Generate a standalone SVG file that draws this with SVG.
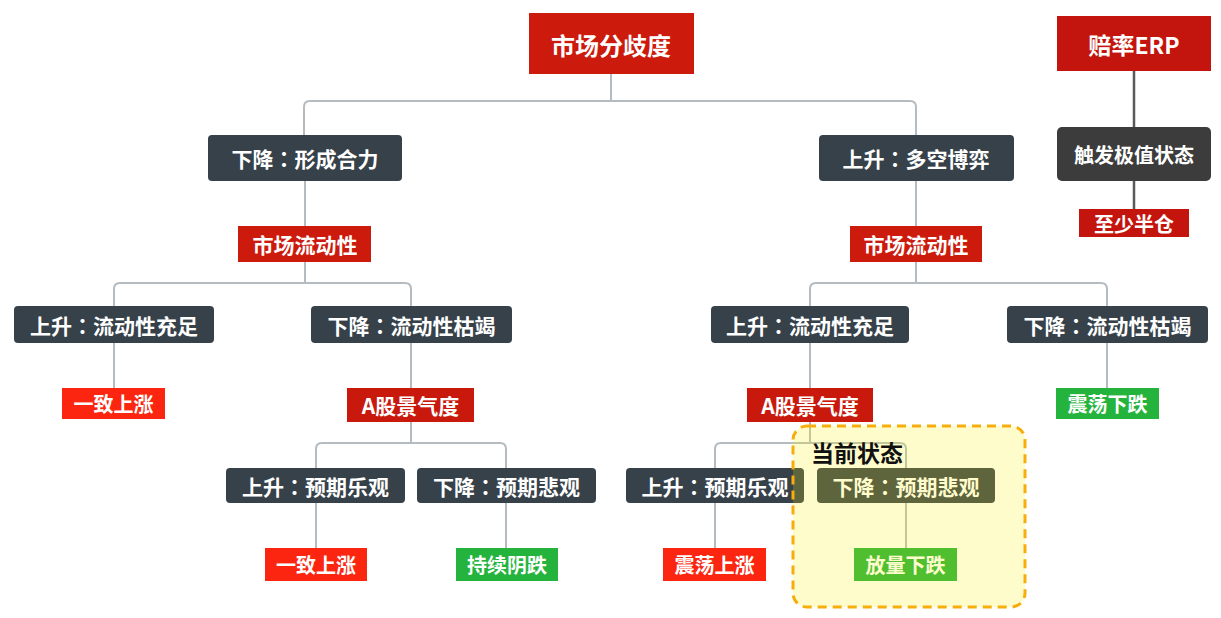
<svg xmlns="http://www.w3.org/2000/svg" width="1221" height="618" viewBox="0 0 1221 618">
<style>
text{font-family:"Noto Sans CJK SC","Noto Sans",sans-serif;font-weight:bold;fill:#fff;text-anchor:middle;dominant-baseline:central}
.c{font-family:"Noto Sans CJK TC","Noto Sans CJK SC",sans-serif}
.t22{font-size:21px}
.t20{font-size:20px}
.dark{fill:#36414a}
.red{fill:#cc1a0c}
.bred{fill:#fb2510}
.green{fill:#24b33d}
.ln{fill:none;stroke:#b4bbc1;stroke-width:2}
.ln2{fill:none;stroke:#5a5a5a;stroke-width:2.5}
</style>
<rect width="1221" height="618" fill="#fff"/>
<g id="connectors">
<path class="ln" d="M611 74V101M304 136V107Q304 101 310 101H910Q916 101 916 107V136"/>
<path class="ln" d="M305 181V226M916 181V226"/>
<path class="ln" d="M305 262V283M114 306V289Q114 283 120 283H405Q411 283 411 289V306"/>
<path class="ln" d="M916 262V283M810 306V289Q810 283 816 283H1101Q1107 283 1107 289V306"/>
<path class="ln" d="M114 343V388M411 343V388M810 343V388M1107 343V388"/>
<path class="ln" d="M411 422V443M316 468V449Q316 443 322 443H500Q506 443 506 449V468"/>
<path class="ln" d="M810 422V443M715 468V449Q715 443 721 443H900Q906 443 906 449V468"/>
<path class="ln" d="M316 503V548M506 503V548M715 503V548M906 503V548"/>
<path class="ln2" d="M1134 71V127M1134 181V209"/>
</g>
<g id="n-root"><rect x="529" y="13" width="165" height="61" class="red"/><text x="611" y="44" style="font-size:24px">市场分歧度</text></g>
<g id="n-down1"><rect x="208" y="135" width="194" height="46" rx="4" class="dark"/><text x="305" y="158" class="t22">下降<tspan class="c">：</tspan>形成合力</text></g>
<g id="n-up1"><rect x="819" y="135" width="195" height="46" rx="4" class="dark"/><text x="916" y="158" class="t22">上升<tspan class="c">：</tspan>多空博弈</text></g>
<g id="n-liq-l"><rect x="238" y="226" width="133" height="36" class="red"/><text x="305" y="244" class="t22">市场流动性</text></g>
<g id="n-liq-r"><rect x="850" y="226" width="132" height="36" class="red"/><text x="916" y="244" class="t22">市场流动性</text></g>
<g id="n-l-up"><rect x="14" y="306" width="200" height="37" rx="4" class="dark"/><text x="114" y="324.5" class="t22">上升<tspan class="c">：</tspan>流动性充足</text></g>
<g id="n-l-down"><rect x="311" y="306" width="201" height="37" rx="4" class="dark"/><text x="411.5" y="324.5" class="t22">下降<tspan class="c">：</tspan>流动性枯竭</text></g>
<g id="n-r-up"><rect x="711" y="306" width="198" height="37" rx="4" class="dark"/><text x="810" y="324.5" class="t22">上升<tspan class="c">：</tspan>流动性充足</text></g>
<g id="n-r-down"><rect x="1007" y="306" width="201" height="37" rx="4" class="dark"/><text x="1107.5" y="324.5" class="t22">下降<tspan class="c">：</tspan>流动性枯竭</text></g>
<g id="n-l-rise"><rect x="62" y="388" width="103" height="31" class="bred"/><text x="113.5" y="403.5" class="t20">一致上涨</text></g>
<g id="n-a-l"><rect x="347" y="388" width="127" height="34" fill="#c8190c"/><text x="410.5" y="405" class="t22">A股景气度</text></g>
<g id="n-a-r"><rect x="747" y="388" width="126" height="34" fill="#c8190c"/><text x="810" y="405" class="t22">A股景气度</text></g>
<g id="n-r-fall"><rect x="1056" y="388" width="103" height="31" class="green"/><text x="1107.5" y="403.5" class="t20">震荡下跌</text></g>
<g id="n-l-opt"><rect x="226" y="468" width="179" height="35" rx="4" class="dark"/><text x="315.5" y="485.5" class="t22">上升<tspan class="c">：</tspan>预期乐观</text></g>
<g id="n-l-pes"><rect x="417" y="468" width="179" height="35" rx="4" class="dark"/><text x="506.5" y="485.5" class="t22">下降<tspan class="c">：</tspan>预期悲观</text></g>
<g id="n-r-opt"><rect x="626" y="468" width="178" height="35" rx="4" class="dark"/><text x="715" y="485.5" class="t22">上升<tspan class="c">：</tspan>预期乐观</text></g>
<g id="n-r-pes"><rect x="817" y="468" width="178" height="35" rx="4" class="dark"/><text x="906" y="485.5" class="t22">下降<tspan class="c">：</tspan>预期悲观</text></g>
<g id="n-l-rise2"><rect x="265" y="548" width="102" height="33" class="bred"/><text x="316" y="564.5" class="t20">一致上涨</text></g>
<g id="n-l-fall2"><rect x="456" y="548" width="102" height="33" class="green"/><text x="507" y="564.5" class="t20">持续阴跌</text></g>
<g id="n-r-rise2"><rect x="663" y="548" width="103" height="33" class="bred"/><text x="714.5" y="564.5" class="t20">震荡上涨</text></g>
<g id="n-r-fall2"><rect x="854" y="548" width="103" height="33" class="green"/><text x="905.5" y="564.5" class="t20">放量下跌</text></g>
<g id="n-erp"><rect x="1057" y="16" width="154" height="55" fill="#c3150d"/><text x="1134" y="43.5" style="font-size:23px">赔率ERP</text></g>
<g id="n-trig"><rect x="1057" y="127" width="154" height="54" rx="5" fill="#3c3c3c"/><text x="1134" y="154" class="t20">触发极值状态</text></g>
<g id="n-half"><rect x="1079" y="209" width="110" height="28" fill="#c3150d"/><text x="1134" y="223" class="t20">至少半仓</text></g>
<g id="n-current">
<rect x="793" y="426" width="232" height="181" rx="14" fill="#ffef00" fill-opacity="0.2" stroke="#f7ad0a" stroke-width="3" stroke-dasharray="9 6"/>
<text x="857" y="452" style="font-size:23px;fill:#111">当前状态</text>
</g>
</svg>
